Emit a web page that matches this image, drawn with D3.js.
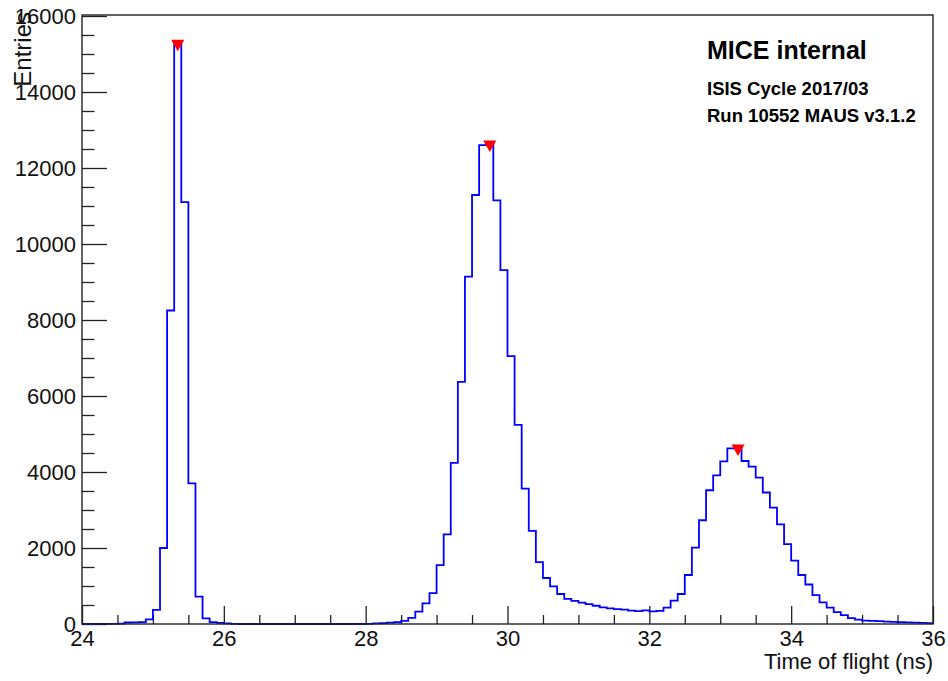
<!DOCTYPE html>
<html>
<head>
<meta charset="utf-8">
<script src="https://cdn.jsdelivr.net/npm/d3@7"></script>
<style>
	body { margin: 0; background: #fff; }
	text { font-family: "Liberation Sans", Arial, sans-serif; }
</style>
</head>
<body>
<div id="chart"></div>
<script>
// bords des bins : 24.0 -> 36.0, pas de 0.1 ns
var binStart = 24.0,
	binWidth = 0.1;

// contenu de chaque bin
var entries = [
	0, 0, 0, 5, 5, 10, 40, 45, 50, 120,                 // 24.0 - 24.9
	370, 2000, 8250, 15300, 11100, 3700, 720, 150, 50, 30, // 25.0 - 25.9
	15, 5, 0, 0, 0, 0, 0, 0, 0, 0,                     // 26.0 - 26.9
	0, 0, 0, 0, 0, 0, 0, 0, 0, 0,                      // 27.0 - 27.9
	5, 15, 25, 35, 50, 80, 160, 325, 545, 815,         // 28.0 - 28.9
	1550, 2360, 4240, 6370, 9140, 11290, 12600, 12650, 11150, 9310, // 29.0 - 29.9
	7050, 5240, 3560, 2450, 1630, 1210, 990, 790, 660, 610,        // 30.0 - 30.9
	560, 525, 480, 440, 410, 390, 380, 350, 340, 360,  // 31.0 - 31.9
	330, 345, 430, 615, 790, 1290, 2010, 2730, 3520, 3910,         // 32.0 - 32.9
	4280, 4620, 4650, 4290, 4140, 3850, 3460, 3060, 2620, 2100,    // 33.0 - 33.9
	1670, 1290, 1040, 760, 570, 430, 310, 235, 155, 115, // 34.0 - 34.9
	90, 80, 75, 60, 55, 50, 45, 35, 30, 25             // 35.0 - 35.9
];

// pics trouves (marqueurs rouges)
var peakX = [25.35, 29.75, 33.25],
	peakY = [15300, 12650, 4650];

var xMajor = [24, 26, 28, 30, 32, 34, 36],
	yMajor = [0, 2000, 4000, 6000, 8000, 10000, 12000, 14000, 16000];

var xTitle = "Time of flight (ns)",
	yTitle = "Entries",
	labelLines = ["MICE internal", "ISIS Cycle 2017/03", "Run 10552 MAUS v3.1.2"];

function drawHisto(boxName)
{
	var width = 948,
		height = 681;

	var left = 82, right = 933, top = 15, bottom = 624;

	var svg = d3.select(boxName)
		.append("svg")
		.attr("width", width)
		.attr("height", height);

	var x = d3.scaleLinear().domain([24, 36]).range([left, right]);
	var y = d3.scaleLinear().domain([0, 16000]).range([bottom, top + 1]);

	// ticks mineurs (vers l'interieur, comme ROOT)
	var xMinor = d3.range(24, 36.001, 0.5).filter(function(v) { return xMajor.indexOf(v) < 0; });
	var yMinor = d3.range(0, 16001, 500).filter(function(v) { return yMajor.indexOf(v) < 0; });

	svg.append("g")
		.attr("transform", "translate(0," + bottom + ")")
		.call(d3.axisBottom(x).tickValues(xMinor).tickSize(-9).tickFormat(""))
		.call(function(g) { g.select(".domain").remove(); });

	svg.append("g")
		.attr("transform", "translate(" + left + ",0)")
		.call(d3.axisLeft(y).tickValues(yMinor).tickSize(-12.5).tickFormat(""))
		.call(function(g) { g.select(".domain").remove(); });

	var xAxis = svg.append("g")
		.attr("transform", "translate(0," + bottom + ")")
		.call(d3.axisBottom(x).tickValues(xMajor).tickSize(-18).tickPadding(6).tickFormat(d3.format("d")));
	xAxis.select(".domain").remove();

	var yAxis = svg.append("g")
		.attr("transform", "translate(" + left + ",0)")
		.call(d3.axisLeft(y).tickValues(yMajor).tickSize(-25).tickPadding(6).tickFormat(d3.format("d")));
	yAxis.select(".domain").remove();

	svg.selectAll(".tick line").attr("stroke", "#222").attr("stroke-width", 1.3);
	svg.selectAll(".tick text")
		.attr("fill", "#111")
		.style("font-size", "22px")
		.style("font-family", "'Liberation Sans', Arial, sans-serif");

	// histogramme en escalier
	var pts = entries.map(function(v, i) { return [binStart + i * binWidth, v]; });
	pts.push([36, entries[entries.length - 1]]);

	var line = d3.line()
		.x(function(d) { return x(d[0]); })
		.y(function(d) { return y(d[1]); })
		.curve(d3.curveStepAfter);

	svg.append("path")
		.datum(pts)
		.attr("fill", "none")
		.attr("stroke", "#0000ff")
		.attr("stroke-width", 1.8)
		.attr("d", line);

	// cadre
	svg.append("rect")
		.attr("x", left)
		.attr("y", top)
		.attr("width", right - left)
		.attr("height", bottom - top)
		.attr("fill", "none")
		.attr("stroke", "#222")
		.attr("stroke-width", 1.4);

	// marqueurs des pics (triangles vers le bas)
	svg.selectAll(".peak")
		.data(peakX)
		.enter()
		.append("path")
		.attr("class", "peak")
		.attr("d", d3.symbol().type(d3.symbolTriangle).size(75))
		.attr("transform", function(d, i) { return "translate(" + x(d) + "," + (y(peakY[i]) + 1) + ") rotate(180)"; })
		.attr("fill", "#ff0000");

	// titres des axes
	svg.append("text")
		.attr("x", right)
		.attr("y", 669)
		.attr("text-anchor", "end")
		.style("font-size", "22px")
		.attr("fill", "#111")
		.text(xTitle);

	svg.append("text")
		.attr("transform", "translate(31,12) rotate(-90)")
		.attr("text-anchor", "end")
		.style("font-size", "24px")
		.attr("fill", "#111")
		.text(yTitle);

	// etiquette MICE
	svg.append("text")
		.attr("x", 707)
		.attr("y", 59)
		.style("font-size", "25px")
		.style("font-weight", "bold")
		.text(labelLines[0]);

	svg.selectAll(".info")
		.data(labelLines.slice(1))
		.enter()
		.append("text")
		.attr("class", "info")
		.attr("x", 707)
		.attr("y", function(d, i) { return 95 + i * 26.5; })
		.style("font-size", "18.5px")
		.style("font-weight", "bold")
		.text(function(d) { return d; });
}

drawHisto("#chart");
</script>
</body>
</html>
